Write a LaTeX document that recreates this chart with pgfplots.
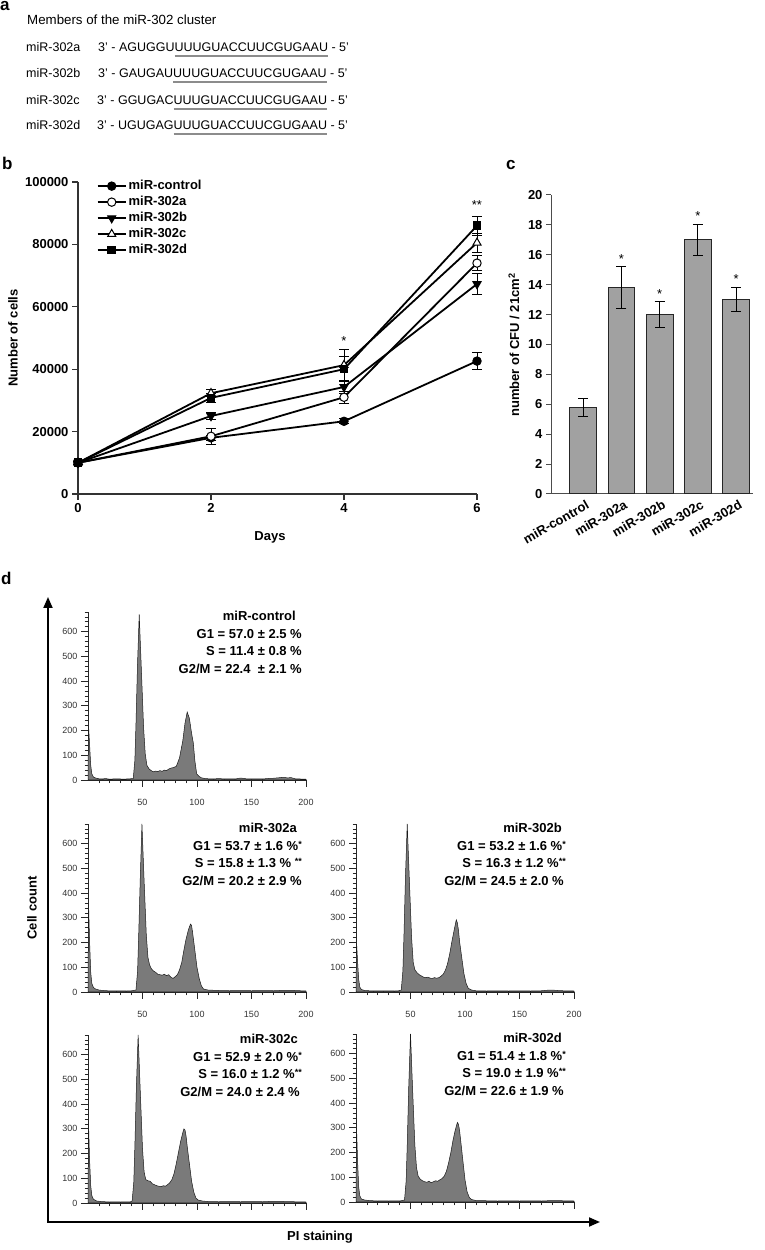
\documentclass[border=0pt]{standalone}
\usepackage{fontspec}
\setmainfont{Liberation Sans}
\usepackage{pgfplots}
\usepackage{pgfplotstable}
\pgfplotsset{compat=1.18}
\usetikzlibrary{arrows.meta}
\newcommand{\fs}[1]{\fontsize{#1}{#1}\selectfont}
\newcommand{\sst}[1]{\raisebox{0.45ex}{\fs{9}#1}}
\newcommand{\gul}[1]{\setbox0\hbox{#1}\rlap{\color{black!45}\rule[-5.5pt]{\wd0}{2pt}}\box0\relax}

\pgfplotstableread{
x y e
0 10000 400
2 18000 700
4 23300 800
6 42600 2800
}\tctrl
\pgfplotstableread{
x y e
0 10000 400
2 18500 2500
4 31000 2000
6 74000 2500
}\ta
\pgfplotstableread{
x y e
0 10000 400
2 25000 1200
4 34300 2200
6 67300 3500
}\tb
\pgfplotstableread{
x y e
0 10000 400
2 32300 1200
4 41300 5000
6 80500 3000
}\tc
\pgfplotstableread{
x y e
0 10000 400
2 30800 1500
4 40000 4000
6 86000 3000
}\td

\pgfplotstableread[row sep=\\]{x y\\ 0 0\\ 0.5 220\\ 1.5 140\\ 2.5 60\\ 3.5 25\\ 5 12\\ 7 8\\ 10 5\\ 13 4\\ 16 6\\ 20 3\\ 25 5\\ 30 4\\ 35 4\\ 39 5\\ 41.5 6\\ 43 80\\ 44 225\\ 45.4 465\\ 47 670\\ 48.8 465\\ 51 212\\ 52.5 106\\ 54 60\\ 56 45\\ 58 38\\ 60 33\\ 62 36\\ 64 34\\ 66 38\\ 68 35\\ 70 40\\ 72 38\\ 74 44\\ 76 48\\ 78 50\\ 81 55\\ 84 90\\ 87 160\\ 89 230\\ 91 275\\ 93 250\\ 95 190\\ 96.6 150\\ 98 80\\ 99.7 25\\ 102 14\\ 104 9\\ 107 6\\ 110 5\\ 115 4\\ 120 6\\ 125 4\\ 130 5\\ 135 4\\ 140 8\\ 145 5\\ 150 4\\ 155 5\\ 160 4\\ 165 6\\ 170 7\\ 175 9\\ 180 11\\ 183 8\\ 186 10\\ 190 5\\ 195 4\\ 200 3\\}\hctrl
\pgfplotstableread[row sep=\\]{x y\\ 0 0\\ 0.5 360\\ 1.5 200\\ 2.5 80\\ 3.5 35\\ 5 18\\ 7 12\\ 10 8\\ 14 6\\ 18 5\\ 22 5\\ 26 4\\ 30 5\\ 35 4\\ 40 5\\ 44 8\\ 45.5 85\\ 46.5 230\\ 48 470\\ 49.5 680\\ 51.3 470\\ 53.5 230\\ 55 140\\ 56.5 110\\ 58 95\\ 60 85\\ 62 80\\ 64 72\\ 66 70\\ 68 68\\ 70 72\\ 72 66\\ 74 70\\ 76 60\\ 78 55\\ 80 62\\ 82 70\\ 84 90\\ 86 120\\ 88 170\\ 90 215\\ 92 250\\ 94 275\\ 95 270\\ 96 240\\ 98 170\\ 100 100\\ 102 55\\ 104 25\\ 106 12\\ 110 8\\ 120 6\\ 130 5\\ 140 6\\ 150 5\\ 160 6\\ 170 5\\ 180 7\\ 190 6\\ 200 4\\}\ha
\pgfplotstableread[row sep=\\]{x y\\ 0 0\\ 0.5 200\\ 1.5 120\\ 2.5 50\\ 3.5 20\\ 5 10\\ 8 6\\ 12 5\\ 16 4\\ 20 5\\ 25 4\\ 30 5\\ 35 4\\ 39 5\\ 41.5 8\\ 43 85\\ 44 230\\ 45.4 470\\ 47 680\\ 48.8 470\\ 51 220\\ 52.5 120\\ 54 90\\ 56 78\\ 58 70\\ 60 65\\ 62 60\\ 64 58\\ 66 60\\ 68 56\\ 70 55\\ 72 58\\ 74 56\\ 76 58\\ 78 64\\ 80 72\\ 82 88\\ 84 115\\ 86 155\\ 88 205\\ 90 250\\ 92 292\\ 93 280\\ 94 250\\ 95 205\\ 97 140\\ 99 75\\ 101 35\\ 103 15\\ 106 8\\ 110 5\\ 120 4\\ 130 5\\ 140 4\\ 150 5\\ 160 4\\ 170 5\\ 175 7\\ 180 8\\ 185 6\\ 190 5\\ 200 4\\}\hb
\pgfplotstableread[row sep=\\]{x y\\ 0 0\\ 0.5 320\\ 1.5 170\\ 2.5 70\\ 3.5 30\\ 5 15\\ 8 8\\ 12 6\\ 16 5\\ 20 4\\ 25 5\\ 30 4\\ 35 5\\ 38.5 4\\ 40.5 8\\ 42 85\\ 43 230\\ 44.4 470\\ 46 680\\ 47.8 470\\ 50 220\\ 51.5 125\\ 53 95\\ 55 90\\ 57 88\\ 59 78\\ 61 74\\ 63 70\\ 65 68\\ 67 66\\ 69 70\\ 71 68\\ 73 74\\ 75 82\\ 77 95\\ 79 120\\ 81 160\\ 83 205\\ 85 250\\ 87 285\\ 88 300\\ 89 295\\ 90 270\\ 91 230\\ 93 160\\ 95 90\\ 97 45\\ 99 20\\ 101 12\\ 105 8\\ 110 6\\ 120 5\\ 130 6\\ 140 5\\ 150 6\\ 160 5\\ 170 7\\ 180 6\\ 190 5\\ 200 4\\}\hc
\pgfplotstableread[row sep=\\]{x y\\ 0 0\\ 0.5 300\\ 1.5 160\\ 2.5 60\\ 3.5 25\\ 5 12\\ 8 8\\ 12 6\\ 16 5\\ 20 4\\ 25 5\\ 30 4\\ 35 5\\ 40 4\\ 44.5 8\\ 46 85\\ 47 230\\ 48.4 470\\ 50 680\\ 51.8 470\\ 54 230\\ 55.5 140\\ 57 105\\ 59 92\\ 61 86\\ 63 82\\ 65 80\\ 67 84\\ 69 78\\ 71 82\\ 73 86\\ 75 84\\ 77 90\\ 79 95\\ 81 105\\ 83 125\\ 85 160\\ 87 200\\ 89 250\\ 91 290\\ 93 322\\ 94 315\\ 95 290\\ 96 250\\ 98 170\\ 100 90\\ 102 40\\ 104 18\\ 106 10\\ 110 6\\ 120 5\\ 130 4\\ 140 5\\ 150 4\\ 160 5\\ 170 4\\ 180 6\\ 190 5\\ 200 4\\}\hd

\pgfplotsset{
 histo/.style={
  anchor=south west, scale only axis, width=218pt, height=168pt,
  xmin=0, xmax=200, ymin=0, ymax=680,
  axis lines*=left, axis line style={line width=0.9pt, black!85},
  xtick={50,100,150,200}, ytick={0,100,...,600},
  minor xtick={10,20,...,200}, minor ytick={20,40,...,680},
  tick align=outside, major tick length=7pt, minor tick length=3.5pt,
  tick style={line width=0.8pt, black!85},
  ticklabel style={font=\fs{9}, black!80},
  /pgf/number format/fixed,
  /pgf/number format/assume math mode=true,
  xticklabel style={yshift=-9pt},
  clip=false,
 },
 hfill/.style={fill=black!52, draw=black!90, line width=0.5pt},
}

\begin{document}
\begin{tikzpicture}
\useasboundingbox (0pt,0pt) rectangle (765pt,1250pt);

% panel letters
\node[anchor=base west, inner sep=0, font=\fs{17}\bfseries] at (0pt,1239pt) {a};
\node[anchor=base west, inner sep=0, font=\fs{17}\bfseries] at (2pt,1080pt) {b};
\node[anchor=base west, inner sep=0, font=\fs{17}\bfseries] at (506pt,1080pt) {c};
\node[anchor=base west, inner sep=0, font=\fs{17}\bfseries] at (1pt,665pt) {d};

% ---------- panel a ----------
\begin{scope}[every node/.style={anchor=base west, inner sep=0, font=\fs{12.5}}]
\node[font=\fs{13.3}] at (27pt,1225.5pt) {Members of the miR-302 cluster};
\node at (26pt,1198.5pt) {miR-302a};
\node at (98pt,1198.5pt) {3' - AGUGGU\gul{UUUGUACCUUCGUGAAU} - 5'};
\node at (26pt,1172.5pt) {miR-302b};
\node at (98pt,1172.5pt) {3' - GAUGAU\gul{UUUGUACCUUCGUGAAU} - 5'};
\node at (26pt,1145.5pt) {miR-302c};
\node at (97pt,1145.5pt) {3' - GGUGAC\gul{UUUGUACCUUCGUGAAU} - 5'};
\node at (26pt,1120.5pt) {miR-302d};
\node at (97pt,1120.5pt) {3' - UGUGAG\gul{UUUGUACCUUCGUGAAU} - 5'};
\end{scope}

% ---------- panel b ----------
\begin{axis}[
 at={(78pt,756pt)}, anchor=south west, scale only axis, width=399pt, height=312pt,
 xmin=0, xmax=6, ymin=0, ymax=100000,
 axis lines*=left, axis line style={line width=1.2pt, black!80},
 xtick={0,2,4,6}, ytick={0,20000,40000,60000,80000,100000},
 tick align=outside, major tick length=6pt, tick style={line width=1.2pt, black!80},
 scaled y ticks=false,
 /pgf/number format/fixed, /pgf/number format/precision=0,
 /pgf/number format/1000 sep={},
 /pgf/number format/assume math mode=true,
 ticklabel style={font=\fs{13}\bfseries},
 clip=false,
 legend style={at={(axis cs:0.28,101300)}, anchor=north west, draw=none, fill=none,
   font=\fs{13}\bfseries, inner sep=0pt, row sep=0pt,
   nodes={inner ysep=2pt, text height=9.5pt, text depth=2.5pt}},
 legend cell align=left,
 legend image code/.code={\draw[mark repeat=2,mark phase=2,#1] plot coordinates {(0pt,0pt) (14pt,0pt) (28pt,0pt)};},
 every axis plot/.append style={line width=1.8pt, black},
 ebar/.style={error bars/.cd, y dir=both, y explicit, error bar style={line width=1pt},
   error mark options={rotate=90, mark size=5pt, line width=1pt}},
]
\addplot[mark=*, mark size=4.2pt, mark options={line width=1pt}, ebar] table[x=x,y=y,y error=e] {\tctrl};
\addlegendentry{miR-control}
\addplot[mark=*, mark size=4.2pt, mark options={fill=white, line width=1pt}, ebar] table[x=x,y=y,y error=e] {\ta};
\addlegendentry{miR-302a}
\addplot[mark=triangle*, mark size=4.7pt, mark options={rotate=180, line width=1pt}, ebar] table[x=x,y=y,y error=e] {\tb};
\addlegendentry{miR-302b}
\addplot[mark=triangle*, mark size=4.7pt, mark options={fill=white, line width=1pt}, ebar] table[x=x,y=y,y error=e] {\tc};
\addlegendentry{miR-302c}
\addplot[mark=square*, mark size=3.8pt, mark options={line width=1pt}, ebar] table[x=x,y=y,y error=e] {\td};
\addlegendentry{miR-302d}
\node[font=\fs{13}] at (axis cs:4,49000) {*};
\node[font=\fs{13}] at (axis cs:6,92500) {**};
\end{axis}
\node[rotate=90, font=\fs{13}\bfseries] at (13pt,912pt) {Number of cells};
\node[font=\fs{13}\bfseries] at (270pt,713pt) {Days};

% ---------- panel c ----------
\begin{axis}[
 at={(551pt,756pt)}, anchor=south west, scale only axis, width=202pt, height=299pt,
 xmin=-0.84, xmax=4.44, ymin=0, ymax=20,
 axis lines*=left, axis line style={line width=1pt, black!70},
 xtick={0,1,2,3,4}, xticklabels={miR-control,miR-302a,miR-302b,miR-302c,miR-302d},
 ytick={0,2,...,20},
 tick align=outside, major tick length=5pt, tick style={line width=1pt, black!70},
 xtick style={draw=none},
 /pgf/number format/fixed,
 /pgf/number format/assume math mode=true,
 ticklabel style={font=\fs{13}\bfseries},
 xticklabel style={rotate=30, anchor=north east, xshift=5pt, yshift=2pt},
 clip=false,
]
\addplot[ybar, bar width=0.7, bar shift=0pt, fill=black!37, draw=black!85, line width=1pt,
 error bars/.cd, y dir=both, y explicit, error bar style={line width=1pt, black},
 error mark options={rotate=90, mark size=5pt, line width=1pt, black}]
 coordinates {(0,5.8) +- (0,0.6) (1,13.8) +- (0,1.4) (2,12.0) +- (0,0.85) (3,17.0) +- (0,1.05) (4,13.0) +- (0,0.8)};
\node[font=\fs{13}] at (axis cs:1,15.7) {*};
\node[font=\fs{13}] at (axis cs:2,13.35) {*};
\node[font=\fs{13}] at (axis cs:3,18.6) {*};
\node[font=\fs{13}] at (axis cs:4,14.35) {*};
\end{axis}
\node[rotate=90, font=\fs{13}\bfseries] at (514pt,905pt) {number of CFU / 21cm\textsuperscript{2}};

% ---------- panel d ----------
\draw[line width=1.8pt, black, {Triangle[length=11pt,width=9pt]}-{Triangle[length=11pt,width=9pt]}] (48pt,653pt) -- (48pt,28pt) -- (600pt,28pt);
\node[rotate=90, font=\fs{13}\bfseries] at (32pt,342pt) {Cell count};
\node[font=\fs{13}\bfseries] at (320pt,13pt) {PI staining};

\begin{axis}[histo, at={(88pt,470pt)}]
\addplot[hfill] table {\hctrl} \closedcycle;
\end{axis}
\begin{axis}[histo, at={(88pt,258pt)}]
\addplot[hfill] table {\ha} \closedcycle;
\end{axis}
\begin{axis}[histo, at={(356pt,258pt)}]
\addplot[hfill] table {\hb} \closedcycle;
\end{axis}
\begin{axis}[histo, at={(88pt,47pt)}, xticklabels={}]
\addplot[hfill] table {\hc} \closedcycle;
\end{axis}
\begin{axis}[histo, at={(356pt,48pt)}, xticklabels={}]
\addplot[hfill] table {\hd} \closedcycle;
\end{axis}

\begin{scope}[every node/.style={anchor=base east, inner sep=0, font=\fs{13}\bfseries}]
\node at (296pt,629.4pt) {miR-control};
\node at (302pt,611.9pt) {G1 = 57.0 ± 2.5 \%};
\node at (302pt,594.4pt) {S = 11.4 ± 0.8 \%};
\node at (302pt,576.9pt) {G2/M = 22.4 \ ± 2.1 \%};

\node at (297pt,417.4pt) {miR-302a};
\node at (302pt,399.9pt) {G1 = 53.7 ± 1.6 \%\sst{*}};
\node at (302pt,382.4pt) {S = 15.8 ± 1.3 \% \sst{**}};
\node at (302pt,364.9pt) {G2/M = 20.2 ± 2.9 \%};

\node at (562pt,417.4pt) {miR-302b};
\node at (566pt,399.9pt) {G1 = 53.2 ± 1.6 \%\sst{*}};
\node at (566pt,382.4pt) {S = 16.3 ± 1.2 \%\sst{**}};
\node at (564pt,364.9pt) {G2/M = 24.5 ± 2.0 \%};

\node at (298pt,206.4pt) {miR-302c};
\node at (302pt,188.9pt) {G1 = 52.9 ± 2.0 \%\sst{*}};
\node at (302pt,171.4pt) {S = 16.0 ± 1.2 \%\sst{**}};
\node at (300pt,153.9pt) {G2/M = 24.0 ± 2.4 \%};

\node at (562pt,207.4pt) {miR-302d};
\node at (566pt,189.9pt) {G1 = 51.4 ± 1.8 \%\sst{*}};
\node at (566pt,172.4pt) {S = 19.0 ± 1.9 \%\sst{**}};
\node at (564pt,154.9pt) {G2/M = 22.6 ± 1.9 \%};
\end{scope}

\end{tikzpicture}
\end{document}
